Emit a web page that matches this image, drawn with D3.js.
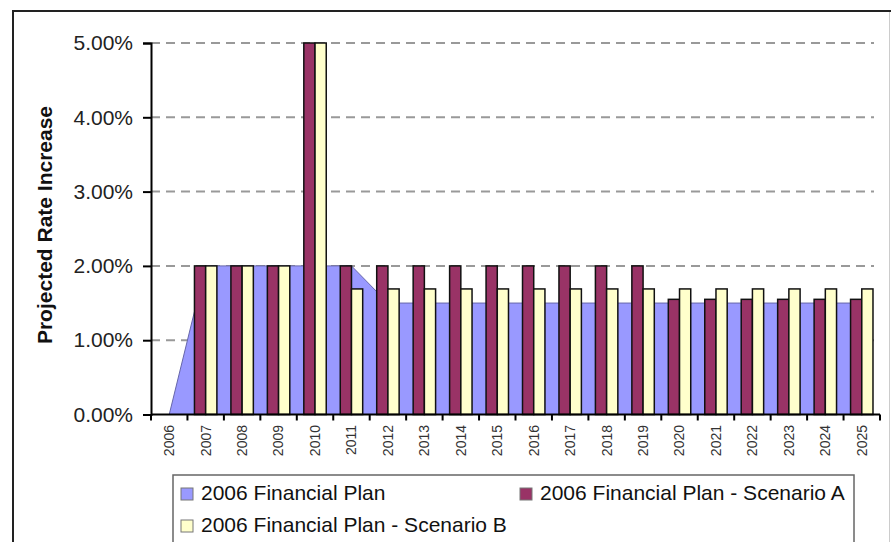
<!DOCTYPE html>
<html>
<head>
<meta charset="utf-8">
<script src="https://cdn.jsdelivr.net/npm/d3@7"></script>
<style>
  body { margin: 0; background: #fff; }
  svg { display: block; font-family: "Liberation Sans", Arial, sans-serif; }
</style>
</head>
<body>
<div id="chart"></div>
<script>
var years = ["2006", "2007", "2008", "2009", "2010", "2011", "2012", "2013", "2014", "2015",
             "2016", "2017", "2018", "2019", "2020", "2021", "2022", "2023", "2024", "2025"];

// values in percent
var financialPlan = [0, 2, 2, 2, 2, 2, 1.5, 1.5, 1.5, 1.5, 1.5, 1.5, 1.5, 1.5, 1.5, 1.5, 1.5, 1.5, 1.5, 1.5];
var scenarioA = [0, 2, 2, 2, 5, 2, 2, 2, 2, 2, 2, 2, 2, 2, 1.55, 1.55, 1.55, 1.55, 1.55, 1.55];
var scenarioB = [0, 2, 2, 2, 5, 1.69, 1.69, 1.69, 1.69, 1.69, 1.69, 1.69, 1.69, 1.69, 1.69, 1.69, 1.69, 1.69, 1.69, 1.69];

var yTicks = [0, 1, 2, 3, 4, 5];
var seriesNames = ["2006 Financial Plan", "2006 Financial Plan - Scenario A", "2006 Financial Plan - Scenario B"];
var seriesColors = ["#9999FF", "#993366", "#FFFFCC"];

var width = 891, height = 542;
var plot = { left: 151, right: 880, top: 43, bottom: 414.5 };

var svg = d3.select("#chart").append("svg")
  .attr("width", width)
  .attr("height", height);

// outer frame
svg.append("rect")
  .attr("x", 13).attr("y", 11)
  .attr("width", 890).attr("height", 560)
  .attr("fill", "none")
  .attr("stroke", "#222")
  .attr("stroke-width", 2);

svg.append("line")
  .attr("x1", 889.5).attr("x2", 889.5)
  .attr("y1", 12).attr("y2", height)
  .attr("stroke", "#ccc")
  .attr("stroke-width", 1);

var x = d3.scaleBand()
  .domain(years)
  .range([plot.left, plot.right])
  .padding(0);

var inner = d3.scaleBand()
  .domain(["A", "B"])
  .range([0, x.bandwidth()])
  .paddingInner(0)
  .paddingOuter(0.625);

var y = d3.scaleLinear()
  .domain([0, 5])
  .range([plot.bottom, plot.top]);

// gridlines
svg.append("g")
  .selectAll("line")
  .data(yTicks.filter(function(d) { return d > 0; }))
  .enter()
  .append("line")
  .attr("x1", plot.left)
  .attr("x2", plot.right - 6)
  .attr("y1", function(d) { return y(d); })
  .attr("y2", function(d) { return y(d); })
  .attr("stroke", "#999")
  .attr("stroke-width", 2)
  .attr("stroke-dasharray", "9,6");

// area series
var area = d3.area()
  .x(function(d, i) { return x(years[i]) + x.bandwidth() / 2; })
  .y0(y(0))
  .y1(function(d) { return y(d); });

svg.append("path")
  .datum(financialPlan)
  .attr("d", area)
  .attr("fill", seriesColors[0])
  .attr("stroke", "#6666aa")
  .attr("stroke-width", 1);

// bars
var barData = [];
years.forEach(function(yr, i) {
  barData.push({ year: yr, key: "A", value: scenarioA[i], color: seriesColors[1] });
  barData.push({ year: yr, key: "B", value: scenarioB[i], color: seriesColors[2] });
});

svg.append("g")
  .selectAll("rect")
  .data(barData.filter(function(d) { return d.value > 0; }))
  .enter()
  .append("rect")
  .attr("x", function(d) { return x(d.year) + inner(d.key); })
  .attr("y", function(d) { return y(d.value); })
  .attr("width", inner.bandwidth())
  .attr("height", function(d) { return y(0) - y(d.value); })
  .attr("fill", function(d) { return d.color; })
  .attr("stroke", "#111")
  .attr("stroke-width", 1.5);

// y axis
var yAxis = svg.append("g")
  .attr("transform", "translate(" + plot.left + ",0)")
  .call(d3.axisLeft(y)
    .tickValues(yTicks)
    .tickSize(8)
    .tickPadding(10)
    .tickFormat(function(d) { return d.toFixed(2) + "%"; }));

yAxis.select(".domain").attr("stroke", "#000").attr("stroke-width", 2);
yAxis.selectAll(".tick line").attr("stroke", "#000").attr("stroke-width", 2);
yAxis.selectAll("text")
  .attr("font-size", 21)
  .attr("fill", "#222")
  .attr("font-family", "Liberation Sans, Arial, sans-serif");

// x axis: line plus ticks between categories
svg.append("line")
  .attr("x1", plot.left).attr("x2", plot.right)
  .attr("y1", y(0)).attr("y2", y(0))
  .attr("stroke", "#000")
  .attr("stroke-width", 2);

svg.append("g")
  .selectAll("line")
  .data(years.concat(["end"]))
  .enter()
  .append("line")
  .attr("x1", function(d, i) { return plot.left + i * x.step(); })
  .attr("x2", function(d, i) { return plot.left + i * x.step(); })
  .attr("y1", y(0))
  .attr("y2", y(0) + 6)
  .attr("stroke", "#000")
  .attr("stroke-width", 2);

svg.append("g")
  .selectAll("text")
  .data(years)
  .enter()
  .append("text")
  .attr("transform", function(d) {
    return "translate(" + (x(d) + x.bandwidth() / 2) + "," + 425 + ") rotate(-90)";
  })
  .attr("text-anchor", "end")
  .attr("dy", "0.35em")
  .attr("font-size", 14)
  .attr("fill", "#333")
  .text(function(d) { return d; });

// y axis title
svg.append("text")
  .attr("transform", "translate(45,225) rotate(-90)")
  .attr("text-anchor", "middle")
  .attr("dy", "0.35em")
  .attr("font-size", 21)
  .attr("font-weight", "bold")
  .attr("fill", "#111")
  .text("Projected Rate Increase");

// legend
var legend = svg.append("g");

legend.append("rect")
  .attr("x", 173).attr("y", 475)
  .attr("width", 681).attr("height", 90)
  .attr("fill", "#fff")
  .attr("stroke", "#666")
  .attr("stroke-width", 1.5);

var legendPos = [[181, 488], [520, 488], [181, 520]];

var items = legend.selectAll("g.item")
  .data(seriesNames)
  .enter()
  .append("g")
  .attr("class", "item")
  .attr("transform", function(d, i) { return "translate(" + legendPos[i][0] + "," + legendPos[i][1] + ")"; });

items.append("rect")
  .attr("width", 12).attr("height", 12)
  .attr("fill", function(d, i) { return seriesColors[i]; })
  .attr("stroke", "#777")
  .attr("stroke-width", 1);

items.append("text")
  .attr("x", 20)
  .attr("y", 12)
  .attr("font-size", 21)
  .attr("fill", "#111")
  .text(function(d) { return d; });
</script>
</body>
</html>
